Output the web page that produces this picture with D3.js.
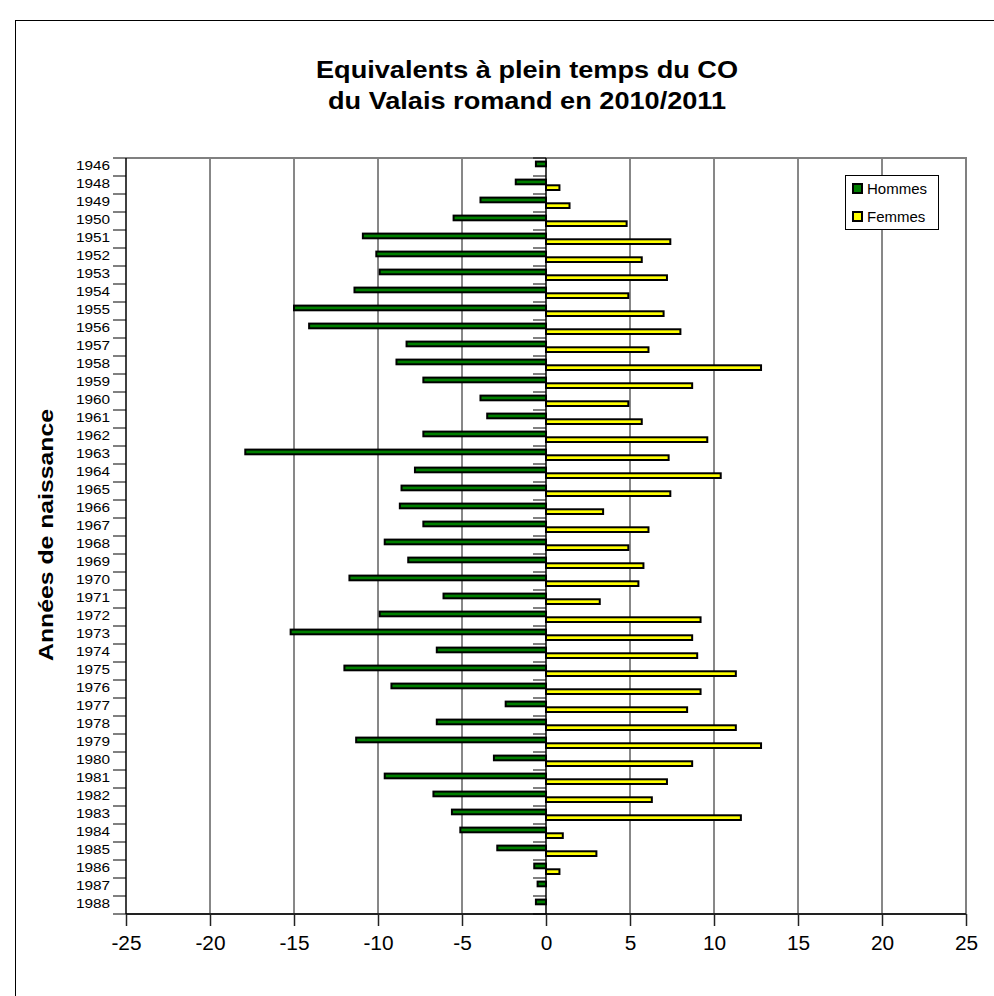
<!DOCTYPE html>
<html>
<head>
<meta charset="utf-8">
<script src="https://cdn.jsdelivr.net/npm/d3@7"></script>
<style>
  body { margin: 0; background: #fff; }
  svg { display: block; }
  text { font-family: "Liberation Sans", Arial, sans-serif; fill: #000; }
</style>
</head>
<body>
<svg id="chart" width="994" height="996"></svg>
<script>
const years = ["1946","1948","1949","1950","1951","1952","1953","1954","1955","1956","1957","1958","1959","1960",
  "1961","1962","1963","1964","1965","1966","1967","1968","1969","1970","1971","1972","1973","1974",
  "1975","1976","1977","1978","1979","1980","1981","1982","1983","1984","1985","1986","1987","1988"];
const hommes = [-0.6,-1.8,-3.9,-5.5,-10.9,-10.1,-9.9,-11.4,-15.0,-14.1,-8.3,-8.9,-7.3,-3.9,
  -3.5,-7.3,-17.9,-7.8,-8.6,-8.7,-7.3,-9.6,-8.2,-11.7,-6.1,-9.9,-15.2,-6.5,
  -12.0,-9.2,-2.4,-6.5,-11.3,-3.1,-9.6,-6.7,-5.6,-5.1,-2.9,-0.7,-0.5,-0.6];
const femmes = [0,0.8,1.4,4.8,7.4,5.7,7.2,4.9,7.0,8.0,6.1,12.8,8.7,4.9,
  5.7,9.6,7.3,10.4,7.4,3.4,6.1,4.9,5.8,5.5,3.2,9.2,8.7,9.0,
  11.3,9.2,8.4,11.3,12.8,8.7,7.2,6.3,11.6,1.0,3.0,0.8,0,0];
const xTicks = [-25,-20,-15,-10,-5,0,5,10,15,20,25];
const seriesNames = ["Hommes","Femmes"];
const seriesColors = ["#007f00","#ffff00"];
const titleLines = ["Equivalents à plein temps du CO","du Valais romand en 2010/2011"];
const yTitle = "Années de naissance";

const svg = d3.select("#chart");
const plot = {left:126, right:966, top:158, bottom:914};
const WIDE = 1.18; // glyph widening seen in the reference rendering

// outer border
svg.append("rect").attr("x",15.5).attr("y",20.5).attr("width",1000).attr("height",1000)
  .attr("fill","#fff").attr("stroke","#000").attr("stroke-width",1);

const x = d3.scaleLinear().domain([-25,25]).range([plot.left, plot.right]);
const y = d3.scaleBand().domain(years).range([plot.top, plot.bottom]);

// title
const tg = svg.append("g");
titleLines.forEach((t,i)=>{
  tg.append("text").attr("transform",`translate(527,${78+i*31}) scale(${WIDE},1)`)
    .attr("text-anchor","middle")
    .attr("font-size",23).attr("font-weight","bold").text(t);
});

// gridlines
svg.append("g").selectAll("line").data(xTicks.filter(d=>d!==0 && d!==-25 && d!==25)).join("line")
  .attr("x1",d=>x(d)).attr("x2",d=>x(d)).attr("y1",plot.top).attr("y2",plot.bottom)
  .attr("stroke","#111").attr("stroke-width",1);

// plot border top & right (grey)
svg.append("path")
  .attr("d",`M${plot.left},${plot.top}H${plot.right}V${plot.bottom}`)
  .attr("fill","none").attr("stroke","#808080").attr("stroke-width",2);

// bars
const bw = 4.7;
svg.append("g").selectAll("rect").data(years.map((yr,i)=>({yr,v:hommes[i]})).filter(d=>d.v!==0)).join("rect")
  .attr("x",d=>x(d.v)).attr("width",d=>x(0)-x(d.v))
  .attr("y",d=>y(d.yr)+3.6).attr("height",bw)
  .attr("fill",seriesColors[0]).attr("stroke","#000").attr("stroke-width",2);
svg.append("g").selectAll("rect").data(years.map((yr,i)=>({yr,v:femmes[i]})).filter(d=>d.v!==0)).join("rect")
  .attr("x",x(0)).attr("width",d=>x(d.v)-x(0))
  .attr("y",d=>y(d.yr)+9.3).attr("height",bw)
  .attr("fill",seriesColors[1]).attr("stroke","#000").attr("stroke-width",2);

// x axis (bottom)
const xAxis = d3.axisBottom(x).tickValues(xTicks).tickSize(12).tickPadding(10).tickFormat(d=>d);
const xg = svg.append("g").attr("transform",`translate(0,${plot.bottom})`).call(xAxis);
xg.select(".domain").attr("stroke","#222").attr("stroke-width",2).attr("d",`M${plot.left},0H${plot.right}`);
xg.selectAll(".tick line").attr("stroke","#222").attr("stroke-width",1.5);
xg.selectAll(".tick text").attr("font-size",19.5).attr("font-family","Liberation Sans, Arial, sans-serif")
  .attr("fill","#000").attr("transform","scale(1.07,1)");

// left y axis line
svg.append("line").attr("x1",plot.left).attr("x2",plot.left).attr("y1",plot.top).attr("y2",plot.bottom)
  .attr("stroke","#000").attr("stroke-width",1.5);
// y labels
svg.append("g").selectAll("text").data(years).join("text")
  .attr("transform",d=>`translate(110,${y(d)+y.bandwidth()/2+3}) scale(${WIDE},1)`)
  .attr("text-anchor","end").attr("font-size",13).text(d=>d);
// boundary ticks
const bounds = years.map(yr=>y(yr)).concat([plot.bottom]);
svg.append("g").selectAll("line").data(bounds).join("line")
  .attr("x1",plot.left-13).attr("x2",plot.left).attr("y1",d=>d).attr("y2",d=>d)
  .attr("stroke","#000").attr("stroke-width",1);
svg.append("g").selectAll("line").data(bounds).join("line")
  .attr("x1",x(0)-13).attr("x2",x(0)).attr("y1",d=>d).attr("y2",d=>d)
  .attr("stroke","#000").attr("stroke-width",1);
// zero axis line
svg.append("line").attr("x1",x(0)).attr("x2",x(0)).attr("y1",plot.top).attr("y2",plot.bottom)
  .attr("stroke","#000").attr("stroke-width",1.5);

// y title
svg.append("text").attr("transform",`translate(53,535) rotate(-90) scale(${WIDE},1)`).attr("text-anchor","middle")
  .attr("font-size",21).attr("font-weight","bold").text(yTitle);

// legend
const lg = svg.append("g");
lg.append("rect").attr("x",845.5).attr("y",175.5).attr("width",93).attr("height",54)
  .attr("fill","#fff").attr("stroke","#000").attr("stroke-width",1);
seriesNames.forEach((n,i)=>{
  lg.append("rect").attr("x",853).attr("y",184+i*28).attr("width",9).attr("height",9)
    .attr("fill",seriesColors[i]).attr("stroke","#000").attr("stroke-width",2);
  lg.append("text").attr("x",867).attr("y",194+i*28).attr("font-size",15).text(n);
});
</script>
</body>
</html>
